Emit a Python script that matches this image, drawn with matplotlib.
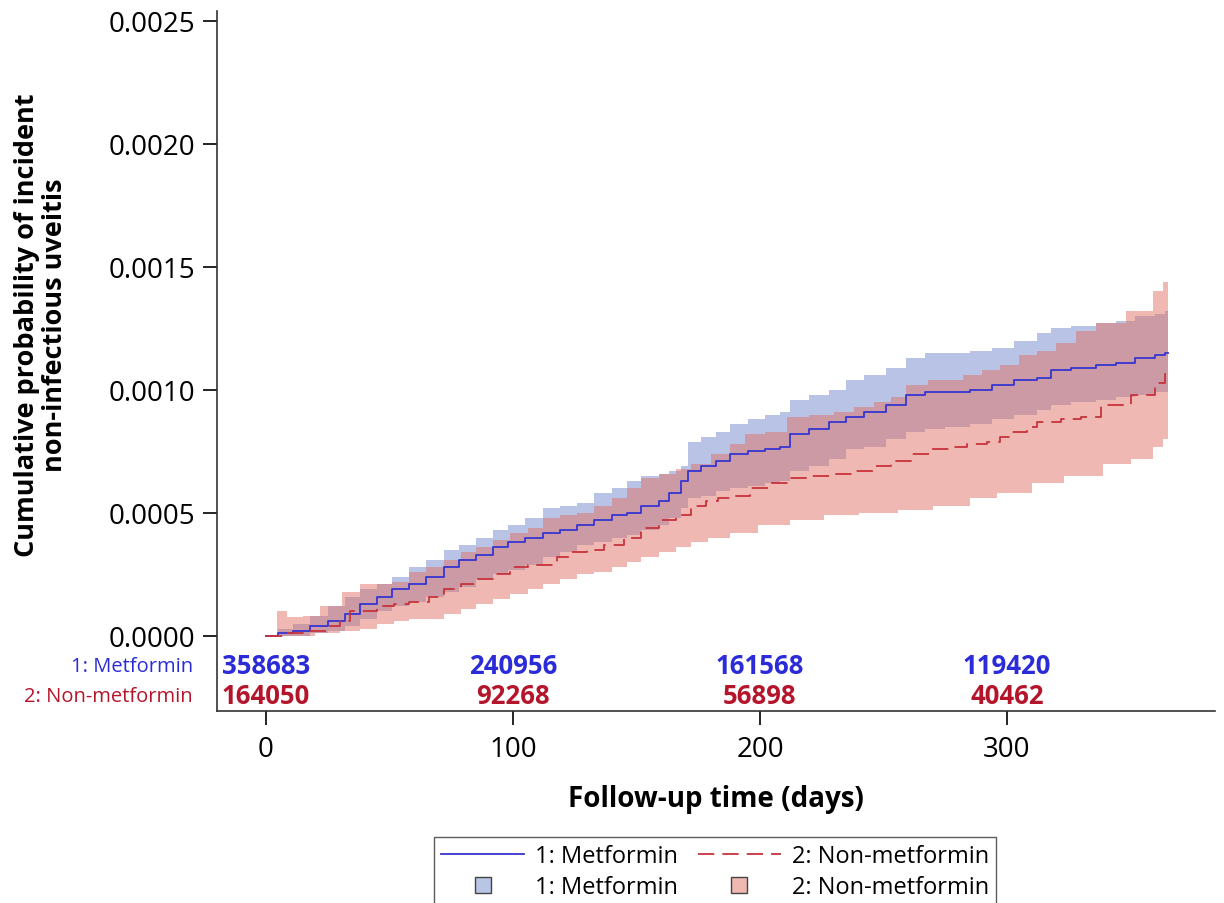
import matplotlib
matplotlib.use("Agg")
import matplotlib.pyplot as plt
from matplotlib.lines import Line2D
import numpy as np

plt.rcParams['font.family'] = ['Open Sans', 'DejaVu Sans']

# ---- data ----
# Metformin: KM cumulative incidence and 95% CI
met_t = [0, 5, 11, 18, 25, 32, 38, 45, 51, 58, 65, 72, 78, 85, 92, 98, 105, 112, 119, 126, 133, 140,
         146, 152, 159, 163, 168, 171, 176, 182, 188, 195, 202, 208, 212, 220, 228, 235, 242, 251, 259,
         267, 275, 285, 294, 303, 312, 318, 326, 336, 344, 352, 360, 364, 365]
met_s = [0, 0.00001, 0.00002, 0.00004, 0.00006, 0.00009, 0.00013, 0.00016, 0.00019, 0.00021, 0.00024,
         0.00028, 0.00031, 0.00033, 0.00036, 0.00038, 0.00040, 0.00042, 0.00043, 0.00045, 0.00047,
         0.00049, 0.00050, 0.00053, 0.00055, 0.00058, 0.00063, 0.00067, 0.00069, 0.00071, 0.00074,
         0.00075, 0.00076, 0.00077, 0.00082, 0.00084, 0.00087, 0.00089, 0.00091, 0.00094, 0.00098,
         0.00099, 0.00099, 0.00100, 0.00102, 0.00104, 0.00105, 0.00108, 0.00109, 0.00110, 0.00111,
         0.00113, 0.00114, 0.00115, 0.00115]
met_hi = [0, 0.00003, 0.00005, 0.00008, 0.00012, 0.00016, 0.00019, 0.00021, 0.00024, 0.00028, 0.00031,
          0.00035, 0.00037, 0.00040, 0.00043, 0.00045, 0.00048, 0.00052, 0.00053, 0.00054, 0.00058,
          0.00060, 0.00063, 0.00065, 0.00066, 0.00067, 0.00069, 0.00079, 0.00081, 0.00083, 0.00086,
          0.00088, 0.00090, 0.00091, 0.00096, 0.00098, 0.00100, 0.00104, 0.00106, 0.00109, 0.00113,
          0.00115, 0.00115, 0.00116, 0.00117, 0.00120, 0.00123, 0.00125, 0.00126, 0.00127, 0.00128,
          0.00130, 0.00131, 0.00132, 0.00132]
met_lo = [0, 0, 0, 0.00001, 0.00002, 0.00004, 0.00007, 0.00010, 0.00012, 0.00014, 0.00016,
          0.00018, 0.00020, 0.00023, 0.00025, 0.00027, 0.00029, 0.00032, 0.00034, 0.00037, 0.00038,
          0.00040, 0.00041, 0.00043, 0.00045, 0.00048, 0.00052, 0.00056, 0.00057, 0.00059, 0.00060,
          0.00061, 0.00062, 0.00063, 0.00067, 0.00069, 0.00072, 0.00076, 0.00077, 0.00080, 0.00083,
          0.00084, 0.00085, 0.00086, 0.00088, 0.00090, 0.00092, 0.00094, 0.00095, 0.00096, 0.00097,
          0.00098, 0.00099, 0.00099, 0.00099]

# Non-metformin: KM cumulative incidence
non_t = [0, 9, 18, 25, 30, 34, 45, 52, 58, 66, 72, 79, 85, 92, 99, 106, 118, 123, 130, 137, 145, 152,
         159, 166, 172, 178, 183, 188, 196, 204, 211, 220, 230, 238, 246, 253, 261, 269, 277, 284, 292,
         297, 302, 308, 312, 322, 330, 338, 350, 360, 364, 365]
non_s = [0, 0.00001, 0.00002, 0.00004, 0.00006, 0.00010, 0.00012, 0.00013, 0.00014, 0.00016, 0.00019,
         0.00021, 0.00023, 0.00025, 0.00028, 0.00029, 0.00032, 0.00034, 0.00035, 0.00037, 0.00040,
         0.00044, 0.00047, 0.00049, 0.00053, 0.00055, 0.00056, 0.00057, 0.00060, 0.00062, 0.00064,
         0.00065, 0.00066, 0.00067, 0.00069, 0.00071, 0.00074, 0.00076, 0.00077, 0.00078, 0.00079,
         0.00081, 0.00083, 0.00085, 0.00087, 0.00088, 0.00089, 0.00094, 0.00098, 0.00103, 0.00108,
         0.00108]
# Non-metformin: 95% CI upper
nhi_t = [0, 4.4, 8.5, 15, 22, 31, 38, 45, 51, 58, 65, 72, 79, 85, 92, 99, 106, 112, 119, 126, 133,
         140, 146, 152, 159, 166, 172, 180, 188, 194, 202, 211, 220, 230, 238, 246, 253, 259, 268, 282,
         290, 297, 305, 312, 320, 328, 336, 348, 359, 363, 365]
non_hi = [0, 0.000103, 0.000077, 0.00008, 0.00012, 0.00018, 0.00021, 0.00021, 0.00022, 0.00026,
          0.00028, 0.00031, 0.00034, 0.00036, 0.00039, 0.00042, 0.00044, 0.00048, 0.00049, 0.00050,
          0.00053, 0.00056, 0.00060, 0.00064, 0.00066, 0.00068, 0.00070, 0.00074, 0.00078, 0.00082,
          0.00083, 0.00089, 0.00090, 0.00091, 0.00093, 0.00095, 0.00097, 0.00102, 0.00104, 0.00106,
          0.00108, 0.00110, 0.00114, 0.00116, 0.00119, 0.00124, 0.00127, 0.00132, 0.00140, 0.00144,
          0.00144]
# Non-metformin: 95% CI lower
nlo_t = [0, 9, 20, 30, 38, 45, 52, 58, 65, 72, 79, 85, 92, 99, 106, 112, 119, 126, 133, 140, 146,
         152, 159, 166, 172, 179, 188, 199, 212, 226, 240, 256, 270, 285, 296, 310, 323, 339, 350, 359,
         363, 365]
non_lo = [0, 0, 0.00001, 0.00002, 0.00003, 0.00005, 0.00006, 0.00007, 0.00007, 0.00009, 0.00011,
          0.00013, 0.00015, 0.00017, 0.00019, 0.00021, 0.00023, 0.00025, 0.00026, 0.00028, 0.00030,
          0.00032, 0.00034, 0.00036, 0.00038, 0.00040, 0.00042, 0.00045, 0.00047, 0.00049, 0.00050,
          0.00051, 0.00053, 0.00056, 0.00058, 0.00062, 0.00065, 0.00070, 0.00072, 0.00077, 0.00080,
          0.00080]

risk_times = [0, 100, 200, 300]
risk_met = ["358683", "240956", "161568", "119420"]
risk_non = ["164050", "92268", "56898", "40462"]

group_labels = ["1: Metformin", "2: Non-metformin"]
x_ticks = [0, 100, 200, 300]
y_ticks = [0, 0.0005, 0.0010, 0.0015, 0.0020, 0.0025]

# ---- styling ----
c_met_line = '#3535d0'
c_non_line = '#c8323c'
c_met_fill = '#7388cc'
c_non_fill = '#e07366'
c_met_text = '#2b2bd8'
c_non_text = '#b5152b'
red_dash = (9, 4.5)

fig = plt.figure(figsize=(12.24, 9.04), dpi=100)
ax = fig.add_axes([217/1224, 1-712/904, (1215-217)/1224, (712-12)/904])

ax.fill_between(met_t, met_lo, met_hi, step='post', color=c_met_fill, alpha=0.5, linewidth=0)
ax.plot(met_t, met_s, drawstyle='steps-post', color=c_met_line, lw=1.3)

# non-metformin band on the union of its upper/lower step times
grid = np.union1d(nhi_t, nlo_t)
hi_idx = np.searchsorted(nhi_t, grid, side='right') - 1
lo_idx = np.searchsorted(nlo_t, grid, side='right') - 1
hi_g = np.asarray(non_hi)[hi_idx]
lo_g = np.asarray(non_lo)[lo_idx]
ax.fill_between(grid, lo_g, hi_g, step='post', color=c_non_fill, alpha=0.5, linewidth=0)
ax.plot(non_t, non_s, drawstyle='steps-post', color=c_non_line, lw=1.3, dashes=red_dash)

ax.set_xlim(-19.8, 384.2)
ax.set_ylim(-0.000305, 0.00254)
ax.set_xticks(x_ticks)
ax.set_yticks(y_ticks)
ax.set_yticklabels([f"{v:.4f}" for v in y_ticks])
ax.tick_params(axis='both', direction='out', length=10, width=1.2, labelsize=20, colors='black')
ax.tick_params(axis='x', pad=7)
ax.tick_params(axis='y', pad=6)
for side in ['top', 'right']:
    ax.spines[side].set_visible(False)
for side in ['left', 'bottom']:
    ax.spines[side].set_linewidth(1.2)
    ax.spines[side].set_color('#333333')

# at-risk table
y_met_row = -0.000122
y_non_row = -0.000244
for t, a, b in zip(risk_times, risk_met, risk_non):
    ax.text(t, y_met_row, a, ha='center', va='center', color=c_met_text, fontsize=18.5, fontweight='bold')
    ax.text(t, y_non_row, b, ha='center', va='center', color=c_non_text, fontsize=18.5, fontweight='bold')
trans = ax.get_yaxis_transform()
ax.text(-0.024, y_met_row, group_labels[0], transform=trans, ha='right', va='center', color=c_met_text, fontsize=14.5)
ax.text(-0.024, y_non_row, group_labels[1], transform=trans, ha='right', va='center', color=c_non_text, fontsize=14.5)

ax.set_xlabel("Follow-up time (days)", fontsize=20, fontweight='bold')
ax.xaxis.set_label_coords(0.5, -0.105)
ax.set_ylabel("Cumulative probability of incident\nnon-infectious uveitis", fontsize=19.5, fontweight='bold',
              linespacing=1.1)
ax.yaxis.set_label_coords(-0.149, 0.553)

handles = [
    Line2D([], [], color=c_met_line, lw=1.3),
    Line2D([], [], marker='s', linestyle='none', markersize=11, markerfacecolor='#b9c5e5',
           markeredgecolor='#444444', markeredgewidth=1.0),
    Line2D([], [], color=c_non_line, lw=1.3, dashes=red_dash),
    Line2D([], [], marker='s', linestyle='none', markersize=11, markerfacecolor='#efb9b2',
           markeredgecolor='#444444', markeredgewidth=1.0),
]
labels = [group_labels[0], group_labels[0], group_labels[1], group_labels[1]]
leg = fig.legend(handles, labels, ncol=2, loc='upper center', bbox_to_anchor=(715/1224, 1-838/904),
                 fontsize=17, frameon=True, fancybox=False, edgecolor='#333333', handlelength=3.5,
                 columnspacing=0.85, handletextpad=0.47, borderpad=0.3, labelspacing=0.3,
                 borderaxespad=0)
leg.get_frame().set_linewidth(1.0)

fig.savefig("out.png", dpi=100)
